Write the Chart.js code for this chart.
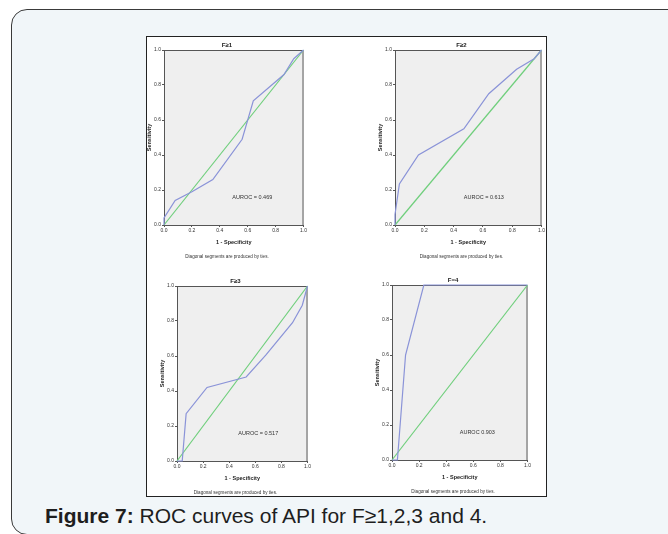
<!DOCTYPE html>
<html>
<head>
<meta charset="utf-8">
<script src="https://cdn.jsdelivr.net/npm/chart.js@4.4.0/dist/chart.umd.min.js"></script>
<style>
  body {
    margin: 0;
    width: 668px;
    height: 534px;
    background: #fff;
    overflow: hidden;
    position: relative;
    font-family: "Liberation Sans", Arial, sans-serif;
  }
  .frame {
    position: absolute;
    left: 11px;
    top: 9px;
    width: 700px;
    height: 524px;
    background: #f1f6f9;
    border: 1px solid #3a3a3a;
    border-radius: 16px;
  }
  .figure {
    position: absolute;
    left: 146px;
    top: 36px;
    width: 399px;
    height: 459px;
    background: #fff;
    border: 1px solid #222;
  }
  canvas { position: absolute; }
  .caption {
    position: absolute;
    left: 45px;
    top: 505px;
    font-size: 21px;
    line-height: 21px;
    color: #1e1e1e;
    white-space: nowrap;
  }
</style>
</head>
<body>
<div class="frame"></div>
<div class="figure"></div>
<canvas id="roc1"></canvas>
<canvas id="roc2"></canvas>
<canvas id="roc3"></canvas>
<canvas id="roc4"></canvas>
<div class="caption"><b>Figure 7:</b> ROC curves of API for F≥1,2,3 and 4.</div>

<script>
// values (1 - specificity vs sensitivity)
const titles = ["F≥1", "F≥2", "F≥3", "F=4"];
const aurocLabels = ["AUROC = 0.469", "AUROC = 0.613", "AUROC = 0.517", "AUROC 0.903"];

const fpr1 = [0, 0, 0.08, 0.2, 0.35, 0.56, 0.64, 0.86, 0.93, 1];
const tpr1 = [0, 0.04, 0.14, 0.19, 0.26, 0.49, 0.71, 0.86, 0.95, 1];

const fpr2 = [0, 0, 0.03, 0.16, 0.47, 0.64, 0.83, 0.95, 1];
const tpr2 = [0, 0.06, 0.235, 0.4, 0.55, 0.75, 0.89, 0.95, 1];

const fpr3 = [0, 0.04, 0.07, 0.23, 0.53, 0.68, 0.885, 0.96, 1];
const tpr3 = [0, 0, 0.27, 0.42, 0.48, 0.605, 0.79, 0.89, 1];

const fpr4 = [0, 0.04, 0.1, 0.235, 1];
const tpr4 = [0, 0, 0.6, 1, 1];

// reference (chance) line
const refX = [0, 1];
const refY = [0, 1];

const tickValues = [0, 0.2, 0.4, 0.6, 0.8, 1];
const xTitle = "1 - Specificity";
const yTitle = "Sensitivity";
const note = "Diagonal segments are produced by ties.";

const curves = [
  { fpr: fpr1, tpr: tpr1 },
  { fpr: fpr2, tpr: tpr2 },
  { fpr: fpr3, tpr: tpr3 },
  { fpr: fpr4, tpr: tpr4 },
];

// plot area boxes on the page: left, top, right, bottom
const plotBoxes = [
  [164, 50, 303, 225],
  [395, 50, 541, 225],
  [177, 286, 307, 461],
  [392, 285, 527, 460],
];
// where the AUROC text sits, in axis units
const labelAnchors = [[0.49, 0.155], [0.47, 0.16], [0.47, 0.16], [0.5, 0.16]];

const Y_AXIS_W = 18;
const X_AXIS_H = 22;
const TITLE_H = 12;
const NOTE_H = 15;
const RIGHT_PAD = 5;

const toPoints = (xs, ys) => xs.map((x, i) => ({ x, y: ys[i] }));

const plotFrame = {
  id: "plotFrame",
  beforeDraw(chart) {
    const { ctx, chartArea: a } = chart;
    ctx.save();
    ctx.fillStyle = "#efefef";
    ctx.fillRect(a.left, a.top, a.width, a.height);
    ctx.restore();
  },
  beforeDatasetsDraw(chart) {
    const { ctx, chartArea: a } = chart;
    ctx.save();
    ctx.strokeStyle = "#555";
    ctx.lineWidth = 1;
    ctx.beginPath();
    ctx.moveTo(a.left, a.top + 0.5);
    ctx.lineTo(a.right - 0.5, a.top + 0.5);
    ctx.lineTo(a.right - 0.5, a.bottom);
    ctx.stroke();
    ctx.restore();
  },
  afterDatasetsDraw(chart, args, opts) {
    const { ctx, scales } = chart;
    ctx.save();
    ctx.font = "5.5px 'Liberation Sans', Arial, sans-serif";
    ctx.fillStyle = "#333";
    ctx.textBaseline = "middle";
    ctx.fillText(opts.text, scales.x.getPixelForValue(opts.at[0]), scales.y.getPixelForValue(opts.at[1]));
    ctx.restore();
  },
};

const axisFont = { family: "'Liberation Sans', Arial, sans-serif", size: 5, lineHeight: "6px" };
const boldFont = { family: "'Liberation Sans', Arial, sans-serif", size: 5.5, weight: "bold", lineHeight: "7px" };

curves.forEach((curve, i) => {
  const [l, t, r, b] = plotBoxes[i];
  const canvas = document.getElementById("roc" + (i + 1));
  const w = r - l + Y_AXIS_W + RIGHT_PAD;
  const h = b - t + TITLE_H + X_AXIS_H + NOTE_H;
  canvas.width = w;
  canvas.height = h;
  canvas.style.left = l - Y_AXIS_W + "px";
  canvas.style.top = t - TITLE_H + "px";

  new Chart(canvas, {
    type: "scatter",
    data: {
      datasets: [
        {
          label: "ROC",
          data: toPoints(curve.fpr, curve.tpr),
          showLine: true,
          borderColor: "#8a93d8",
          borderWidth: 1.2,
          pointRadius: 0,
          tension: 0,
          clip: false,
        },
        {
          label: "Reference",
          data: toPoints(refX, refY),
          showLine: true,
          borderColor: "#6fcf7c",
          borderWidth: 1.2,
          pointRadius: 0,
          clip: false,
        },
      ],
    },
    options: {
      responsive: false,
      animation: false,
      devicePixelRatio: 1,
      layout: { padding: 0, autoPadding: false },
      plugins: {
        legend: { display: false },
        tooltip: { enabled: false },
        title: {
          display: true,
          text: titles[i],
          color: "#222",
          font: { family: "'Liberation Sans', Arial, sans-serif", size: 6, lineHeight: "8px" },
          padding: { top: 3, bottom: 1 },
        },
        subtitle: {
          display: true,
          position: "bottom",
          text: note,
          color: "#333",
          font: { family: "'Liberation Sans', Arial, sans-serif", size: 4.6, lineHeight: "8px" },
          padding: { top: 6, bottom: 1 },
        },
        plotFrame: { text: aurocLabels[i], at: labelAnchors[i] },
      },
      scales: {
        x: {
          type: "linear",
          min: 0,
          max: 1,
          afterBuildTicks: (scale) => {
            scale.ticks = tickValues.map((value) => ({ value }));
          },
          afterFit: (scale) => {
            scale.height = X_AXIS_H;
          },
          ticks: {
            color: "#333",
            font: axisFont,
            padding: 1,
            maxRotation: 0,
            autoSkip: false,
            callback: (v) => v.toFixed(1),
          },
          grid: { drawOnChartArea: false, drawTicks: true, tickLength: 2, color: "#555" },
          border: { color: "#555" },
          title: { display: true, text: xTitle, color: "#222", font: boldFont, padding: { top: 0, bottom: 1 } },
        },
        y: {
          type: "linear",
          min: 0,
          max: 1,
          afterBuildTicks: (scale) => {
            scale.ticks = tickValues.map((value) => ({ value }));
          },
          afterFit: (scale) => {
            scale.width = Y_AXIS_W;
          },
          ticks: {
            color: "#333",
            font: axisFont,
            padding: 1,
            autoSkip: false,
            callback: (v) => v.toFixed(1),
          },
          grid: { drawOnChartArea: false, drawTicks: true, tickLength: 2, color: "#555" },
          border: { color: "#555" },
          title: { display: true, text: yTitle, color: "#222", font: boldFont, padding: { top: 0, bottom: 0 } },
        },
      },
    },
    plugins: [plotFrame],
  });
});
</script>
</body>
</html>
